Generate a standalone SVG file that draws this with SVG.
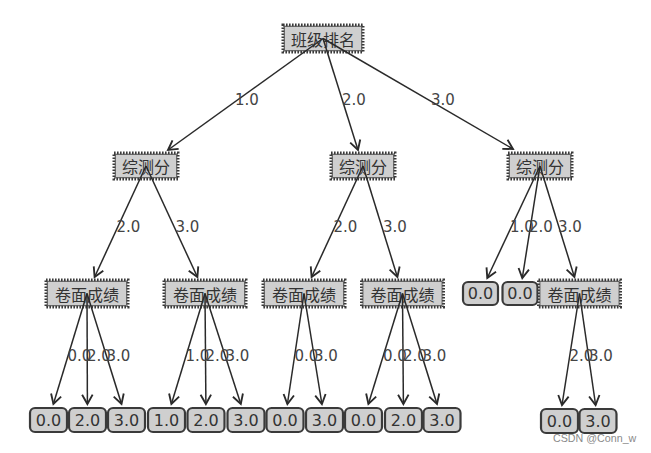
<svg xmlns="http://www.w3.org/2000/svg" width="651" height="453" viewBox="0 0 651 453">
<style>
.dec{fill:#cfcfcf;stroke:#3a3a3a;stroke-width:3;stroke-dasharray:1.6 1.4}
.dec2{fill:none;stroke:#555;stroke-width:0.8}
.leaf{fill:#cfcfcf;stroke:#3a3a3a;stroke-width:2.2}
.cn{font-family:"Noto Sans CJK SC","DejaVu Sans",sans-serif;font-size:16px;fill:#333;text-anchor:middle;dominant-baseline:central}
.num{font-family:"DejaVu Sans",sans-serif;font-size:16px;fill:#333;text-anchor:middle;dominant-baseline:central}
.lbl{font-family:"DejaVu Sans",sans-serif;font-size:15px;fill:#444}
.edge{fill:none;stroke:#2a2a2a;stroke-width:1.5;marker-end:url(#ah)}
.wm{font-family:"Liberation Sans",Arial,sans-serif;font-size:10.7px;fill:#8a8a8a}
</style>
<defs>
<marker id="ah" markerUnits="userSpaceOnUse" markerWidth="14" markerHeight="14" viewBox="-10 -6 12 12" refX="0" refY="0" orient="auto">
<path d="M -8 -4.5 L 0 0 L -8 4.5" fill="none" stroke="#2a2a2a" stroke-width="1.6"/>
</marker>
</defs>
<rect width="651" height="453" fill="#fff"/>

<g id="root"><rect class="dec" x="283" y="25" width="80" height="27"/><rect class="dec2" x="284.5" y="26.5" width="77" height="24"/><text class="cn" x="323" y="38.5">班级排名</text></g>

<g id="n1"><rect class="dec" x="114" y="153" width="64" height="26"/><rect class="dec2" x="115.5" y="154.5" width="61" height="23"/><text class="cn" x="146" y="166">综测分</text></g>
<g id="n2"><rect class="dec" x="331" y="153" width="64" height="26"/><rect class="dec2" x="332.5" y="154.5" width="61" height="23"/><text class="cn" x="363" y="166">综测分</text></g>
<g id="n3"><rect class="dec" x="508" y="153" width="64" height="26"/><rect class="dec2" x="509.5" y="154.5" width="61" height="23"/><text class="cn" x="540" y="166">综测分</text></g>

<g id="n11"><rect class="dec" x="46" y="280" width="82" height="27"/><rect class="dec2" x="47.5" y="281.5" width="79" height="24"/><text class="cn" x="87" y="293.5">卷面成绩</text></g>
<g id="n12"><rect class="dec" x="164" y="280" width="82" height="27"/><rect class="dec2" x="165.5" y="281.5" width="79" height="24"/><text class="cn" x="205" y="293.5">卷面成绩</text></g>
<g id="n21"><rect class="dec" x="263" y="280" width="82" height="27"/><rect class="dec2" x="264.5" y="281.5" width="79" height="24"/><text class="cn" x="304" y="293.5">卷面成绩</text></g>
<g id="n22"><rect class="dec" x="361.5" y="280" width="82" height="27"/><rect class="dec2" x="363" y="281.5" width="79" height="24"/><text class="cn" x="402.5" y="293.5">卷面成绩</text></g>
<g id="n31"><rect class="leaf" x="463" y="282" width="35" height="23" rx="5"/><text class="num" x="480.5" y="293.5">0.0</text></g>
<g id="n32"><rect class="leaf" x="502.5" y="282" width="35" height="23" rx="5"/><text class="num" x="520" y="293.5">0.0</text></g>
<g id="n33"><rect class="dec" x="538.5" y="280" width="82" height="27"/><rect class="dec2" x="540" y="281.5" width="79" height="24"/><text class="cn" x="579.5" y="293.5">卷面成绩</text></g>

<g id="l1"><rect class="leaf" x="30" y="408" width="37" height="24" rx="5"/><text class="num" x="48.5" y="420">0.0</text></g>
<g id="l2"><rect class="leaf" x="69" y="408" width="37" height="24" rx="5"/><text class="num" x="87.5" y="420">2.0</text></g>
<g id="l3"><rect class="leaf" x="108" y="408" width="37" height="24" rx="5"/><text class="num" x="126.5" y="420">3.0</text></g>
<g id="l4"><rect class="leaf" x="148" y="408" width="37" height="24" rx="5"/><text class="num" x="166.5" y="420">1.0</text></g>
<g id="l5"><rect class="leaf" x="187.5" y="408" width="37" height="24" rx="5"/><text class="num" x="206" y="420">2.0</text></g>
<g id="l6"><rect class="leaf" x="227.5" y="408" width="37" height="24" rx="5"/><text class="num" x="246" y="420">3.0</text></g>
<g id="l7"><rect class="leaf" x="266.5" y="408" width="37" height="24" rx="5"/><text class="num" x="285" y="420">0.0</text></g>
<g id="l8"><rect class="leaf" x="306" y="408" width="37" height="24" rx="5"/><text class="num" x="324.5" y="420">3.0</text></g>
<g id="l9"><rect class="leaf" x="345" y="408" width="37" height="24" rx="5"/><text class="num" x="363.5" y="420">0.0</text></g>
<g id="l10"><rect class="leaf" x="385" y="408" width="37" height="24" rx="5"/><text class="num" x="403.5" y="420">2.0</text></g>
<g id="l11"><rect class="leaf" x="423.5" y="408" width="37" height="24" rx="5"/><text class="num" x="442" y="420">3.0</text></g>
<g id="l12"><rect class="leaf" x="541" y="409" width="37" height="24" rx="5"/><text class="num" x="559.5" y="421">0.0</text></g>
<g id="l13"><rect class="leaf" x="579.5" y="409" width="37" height="24" rx="5"/><text class="num" x="598" y="421">3.0</text></g>

<g id="connectors">
<path class="edge" d="M323 38.5 L168 150"/>
<path class="edge" d="M323 38.5 L358 150"/>
<path class="edge" d="M323 38.5 L513 149"/>
<path class="edge" d="M146 166 L94.6 277"/>
<path class="edge" d="M146 166 L197.4 277"/>
<path class="edge" d="M363 166 L311.6 277"/>
<path class="edge" d="M363 166 L397.4 277"/>
<path class="edge" d="M540 166 L487.3 278"/>
<path class="edge" d="M540 166 L522.3 278"/>
<path class="edge" d="M540 166 L574.4 277"/>
<path class="edge" d="M87 293.5 L53.4 404"/>
<path class="edge" d="M87 293.5 L87.4 404"/>
<path class="edge" d="M87 293.5 L121.5 404"/>
<path class="edge" d="M205 293.5 L171.4 404"/>
<path class="edge" d="M205 293.5 L205.9 404"/>
<path class="edge" d="M205 293.5 L240.8 404"/>
<path class="edge" d="M304 293.5 L287.4 404"/>
<path class="edge" d="M304 293.5 L321.9 404"/>
<path class="edge" d="M402.5 293.5 L368.4 404"/>
<path class="edge" d="M402.5 293.5 L403.4 404"/>
<path class="edge" d="M402.5 293.5 L437 404"/>
<path class="edge" d="M579.5 293.5 L562 405"/>
<path class="edge" d="M579.5 293.5 L595.6 405"/>
<text class="lbl" x="235" y="105">1.0</text>
<text class="lbl" x="342" y="105">2.0</text>
<text class="lbl" x="431" y="105">3.0</text>
<text class="lbl" x="116.5" y="232">2.0</text>
<text class="lbl" x="175.5" y="232">3.0</text>
<text class="lbl" x="333.5" y="232">2.0</text>
<text class="lbl" x="383" y="232">3.0</text>
<text class="lbl" x="510" y="232">1.0</text>
<text class="lbl" x="529" y="232">2.0</text>
<text class="lbl" x="558" y="232">3.0</text>
<text class="lbl" x="67.5" y="361">0.0</text>
<text class="lbl" x="87" y="361">2.0</text>
<text class="lbl" x="106.5" y="361">3.0</text>
<text class="lbl" x="185.5" y="361">1.0</text>
<text class="lbl" x="205.5" y="361">2.0</text>
<text class="lbl" x="225.5" y="361">3.0</text>
<text class="lbl" x="294.5" y="361">0.0</text>
<text class="lbl" x="314" y="361">3.0</text>
<text class="lbl" x="383" y="361">0.0</text>
<text class="lbl" x="403" y="361">2.0</text>
<text class="lbl" x="422.5" y="361">3.0</text>
<text class="lbl" x="569.5" y="361">2.0</text>
<text class="lbl" x="589" y="361">3.0</text>
</g>
<text class="wm" x="553" y="442">CSDN @Conn_w</text>
</svg>
